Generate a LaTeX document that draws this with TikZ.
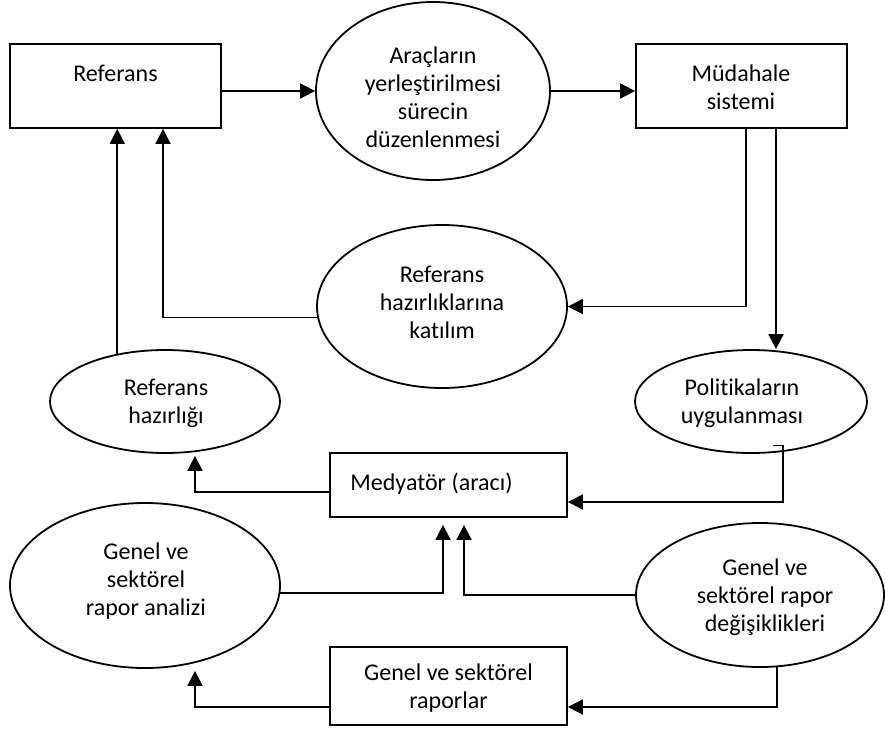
\documentclass[tikz,border=0pt]{standalone}
\usepackage{fontspec}
\setmainfont{Carlito}[Ligatures=NoCommon]
\usetikzlibrary{shapes.geometric,arrows.meta,calc}
\begin{document}
\begin{tikzpicture}[x=1pt,y=-1pt,
  box/.style={draw,line width=1.8pt,rectangle,inner sep=0pt},
  ell/.style={draw,line width=1.8pt,ellipse,inner sep=0pt},
  txt/.style={align=center,inner sep=0pt,font=\fontsize{24}{28}\selectfont},
  arr/.style={line width=1.8pt,-{Triangle[length=15pt,width=15pt]}}]
\useasboundingbox (0,0) rectangle (885,731);
% shapes
\node[box,minimum width=211pt,minimum height=84pt] (ref) at (115.5,86) {};
\node[ell,minimum width=234pt,minimum height=178pt] (ell1) at (433,91) {};
\node[box,minimum width=211pt,minimum height=84pt] (mud) at (741.5,86) {};
\node[ell,minimum width=250pt,minimum height=163pt] (ell2) at (442,306.5) {};
\node[ell,minimum width=230pt,minimum height=103pt] (refhaz) at (165,401.5) {};
\node[ell,minimum width=232pt,minimum height=103pt] (pol) at (751,401.5) {};
\node[box,minimum width=237pt,minimum height=64pt] (med) at (448.5,485) {};
\node[ell,minimum width=270pt,minimum height=165pt] (anal) at (145,585.5) {};
\node[ell,minimum width=248pt,minimum height=144pt] (deg) at (760,595) {};
\node[box,minimum width=237pt,minimum height=78pt] (rap) at (448.5,686) {};
% texts
\node[txt] (refT) at (115.5,73) {Referans};
\node[txt] (ell1T) at (433,97) {Araçların\\yerleştirilmesi\\sürecin\\düzenlenmesi};
\node[txt] (mudT) at (741,87) {Müdahale\\sistemi};
\node[txt] (ell2T) at (442,302) {Referans\\hazırlıklarına\\katılım};
\node[txt] (refhazT) at (166,403) {Referans\\hazırlığı};
\node[txt] (polT) at (742,403) {Politikaların\\uygulanması};
\node[txt] (medT) at (431.5,484) {Medyatör (aracı)};
\node[txt] (analT) at (146,581) {Genel ve\\sektörel\\rapor analizi};
\node[txt] (degT) at (765,597) {Genel ve\\sektörel rapor\\değişiklikleri};
\node[txt] (rapT) at (448.5,688) {Genel ve sektörel\\raporlar};
% helper coordinates
\coordinate (m1) at ($(mud.south)+(4.5,0)$);
\coordinate (m2) at ($(mud.south)+(34.5,0)$);
\coordinate (h) at ($(pol.south)+(22,-8.5)$);
% connectors
\draw[arr] (ref.east |- ell1.west) -- (ell1.west);
\draw[arr] (ell1.east) -- (ell1.east -| mud.west);
\draw[arr] (m1) |- (ell2.east);
\draw[arr] (m2) -- (m2 |- pol.north);
\draw[arr] (ell2.185) -| ($(ref.south)+(47.5,0)$);
\draw[arr] (refhaz.135) -- (refhaz.135 |- ref.south);
\draw[arr] (h) -- ++(10,0) |- ($(med.east)+(0,17)$);
\draw[arr] ($(med.west)+(0,7)$) -| ($(refhaz.south)+(30,2)$);
\draw[arr,shorten >=7pt] (anal.-3) -| ($(med.south)+(-5.5,0)$);
\draw[arr,shorten >=7pt] (deg.west) -| ($(med.south)+(15.5,0)$);
\draw[arr] (deg.-77) |- ($(rap.east)+(0,21)$);
\draw[arr] ($(rap.west)+(0,21)$) -| ($(anal.south)+(50,2)$);
\end{tikzpicture}
\end{document}
